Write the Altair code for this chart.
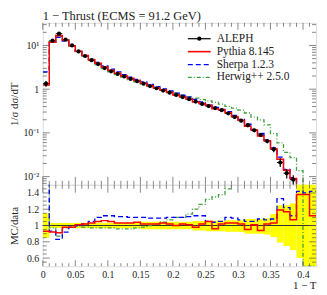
import altair as alt
import pandas as pd

# ---------------- data ----------------
edges = [0.00, 0.01, 0.02, 0.03, 0.04, 0.05, 0.06, 0.07, 0.08, 0.09, 0.10,
         0.11, 0.12, 0.13, 0.14, 0.15, 0.16, 0.17, 0.18, 0.19, 0.20,
         0.21, 0.22, 0.23, 0.24, 0.25, 0.26, 0.27, 0.28, 0.29, 0.30,
         0.31, 0.32, 0.33, 0.34, 0.35, 0.36, 0.37, 0.38, 0.39, 0.40,
         0.41, 0.42]

aleph = [1.34, 12.9, 18.6, 13.6, 10.0, 7.3, 5.75, 4.6, 3.75, 3.05,
         2.57, 2.24, 1.95, 1.72, 1.52, 1.34, 1.18, 1.05, 0.93, 0.83,
         0.74, 0.66, 0.59, 0.52, 0.46, 0.41, 0.37, 0.33, 0.28, 0.23,
         0.19, 0.15, 0.115, 0.09, 0.065, 0.042, 0.021, 0.012, 0.0085, 0.004,
         0.002, 0.001]

# data uncertainty band (lower / upper edge of the yellow band, relative)
band_down = [0.15, 0.03, 0.03, 0.03, 0.03, 0.035, 0.035, 0.035, 0.035, 0.035,
             0.035, 0.035, 0.035, 0.035, 0.035, 0.045, 0.045, 0.045, 0.045, 0.045,
             0.045, 0.045, 0.045, 0.06, 0.06, 0.07, 0.07, 0.07, 0.075, 0.075,
             0.08, 0.1, 0.1, 0.1, 0.11, 0.14, 0.21, 0.25, 0.3, 0.4,
             0.5, 0.5]
band_up = [0.15, 0.03, 0.03, 0.03, 0.03, 0.035, 0.035, 0.035, 0.035, 0.035,
           0.035, 0.035, 0.035, 0.035, 0.035, 0.045, 0.045, 0.045, 0.045, 0.045,
           0.045, 0.045, 0.045, 0.055, 0.055, 0.06, 0.06, 0.06, 0.065, 0.065,
           0.065, 0.08, 0.08, 0.08, 0.09, 0.14, 0.25, 0.25, 0.27, 0.6,
           0.6, 0.6]

pythia_ratio = [0.93, 0.92, 0.91, 0.98, 0.98, 1.01, 1.02, 1.03, 1.05, 1.06,
                1.05, 1.03, 1.03, 1.03, 1.04, 1.02, 1.02, 1.02, 1.03, 1.02,
                1.00, 1.02, 1.01, 0.98, 1.02, 1.05, 0.96, 1.02, 1.03, 1.03,
                1.02, 0.95, 1.01, 0.94, 1.02, 1.03, 1.19, 1.17, 1.07, 1.38,
                1.38, 1.12]

sherpa_ratio = [1.85, 0.93, 0.83, 0.92, 0.98, 1.00, 1.02, 1.05, 1.10, 1.12,
                1.12, 1.11, 1.11, 1.10, 1.10, 1.10, 1.09, 1.09, 1.09, 1.10,
                1.10, 1.10, 1.11, 1.12, 1.12, 1.05, 1.04, 1.05, 1.10, 1.09,
                1.07, 1.05, 1.05, 1.08, 1.07, 1.08, 1.33, 1.22, 1.12, 1.42,
                1.40, 1.42]

herwig_ratio = [1.80, 0.97, 0.87, 0.97, 0.98, 0.99, 0.98, 0.97, 0.97, 0.97,
                0.97, 0.96, 0.96, 0.96, 0.97, 0.98, 1.00, 1.02, 1.04, 1.07,
                1.10, 1.10, 1.14, 1.20, 1.26, 1.32, 1.35, 1.38, 1.45, 1.60,
                1.75, 1.90, 2.00, 2.20, 2.35, 2.30, 2.80, 3.00, 3.20, 3.40,
                0.50, 0.50]

series_names = ["ALEPH", "Pythia 8.145", "Sherpa 1.2.3", "Herwig++ 2.5.0"]

x_major = [0, 0.05, 0.1, 0.15, 0.2, 0.25, 0.3, 0.35, 0.4]
y_top_major = [0.01, 0.1, 1, 10]
y_ratio_major = [0.6, 0.8, 1.0, 1.2, 1.4]

# ---------------- styling ----------------
W, H_TOP, H_RAT = 275, 163, 82
FONT = "Liberation Serif"
TXT = "#222222"
TC = "#555555"
RED, BLUE, GREEN = "#ff0000", "#0000ff", "#40a040"
DASH_S = [5, 3]
DASH_H = [4, 2, 1, 2]

xs = alt.Scale(domain=[0, 0.42], nice=False, zero=False)
ys_top = alt.Scale(type="log", domain=[0.0065, 33], nice=False)
ys_rat = alt.Scale(domain=[0.5, 1.5], nice=False, zero=False)

AX_TOP_X = alt.Axis(labels=False, ticks=False, domain=False, grid=False, title="")
AX_TOP_Y = alt.Axis(values=y_top_major, ticks=False, domain=False, grid=False,
                    labelExpr="datum.value < 0.05 ? '10⁻²' : datum.value < 0.5 ? '10⁻¹' : datum.value < 5 ? '1' : '10¹'",
                    labelFont=FONT, labelFontSize=10, labelColor=TXT, labelPadding=4,
                    labelFlush=False,
                    title="1/σ dσ/dT", titleFont=FONT, titleFontSize=11,
                    titleFontWeight="normal", titleColor=TXT, titleX=-23)
AX_RAT_Y = alt.Axis(values=y_ratio_major, format="~g", ticks=False, domain=False,
                    grid=False, labelFont=FONT, labelFontSize=10, labelColor=TXT,
                    labelPadding=4, labelFlush=False,
                    title="MC/data", titleFont=FONT, titleFontSize=11,
                    titleFontWeight="normal", titleColor=TXT, titleX=-23)
AX_RAT_X = alt.Axis(values=x_major, format="~g", ticks=False, domain=False, grid=False,
                    labelFont=FONT, labelFontSize=10, labelColor=TXT, labelPadding=3,
                    labelFlush=False,
                    title="1 − T", titleFont=FONT, titleFontSize=11,
                    titleFontWeight="normal", titleColor=TXT, titleAnchor="end",
                    titlePadding=0)

n = len(aleph)
hist = pd.DataFrame({
    "lo": edges[:-1], "hi": edges[1:],
    "mid": [(edges[i] + edges[i + 1]) / 2 for i in range(n)],
    "v": aleph,
    "vlo": [aleph[i] * (1 - band_down[i]) for i in range(n)],
    "vhi": [aleph[i] * (1 + band_up[i]) for i in range(n)],
    "blo": [1 - r for r in band_down],
    "bhi": [1 + r for r in band_up],
})

pythia = [aleph[i] * pythia_ratio[i] for i in range(n)]
sherpa = [aleph[i] * sherpa_ratio[i] for i in range(n)]
herwig = [aleph[i] * herwig_ratio[i] for i in range(n)]


def step_df(vals):
    return pd.DataFrame({"x": edges, "v": list(vals) + [vals[-1]]})


def step_line(vals, yscale, xax, yax, color, dash=None, width=1.3):
    kw = dict(interpolate="step-after", clip=True, color=color, strokeWidth=width)
    if dash:
        kw["strokeDash"] = dash
    return alt.Chart(step_df(vals)).mark_line(**kw).encode(
        x=alt.X("x:Q", scale=xs, axis=xax),
        y=alt.Y("v:Q", scale=yscale, axis=yax),
    )


def xticks(vals, length, where, height, xax):
    df = pd.DataFrame({"t": vals})
    y0, y1 = (0, length) if where == "top" else (height, height - length)
    return alt.Chart(df).mark_rule(color=TC, strokeWidth=0.7).encode(
        x=alt.X("t:Q", scale=xs, axis=xax), y=alt.value(y0), y2=alt.value(y1))


def yticks(vals, scale, length, where, yax):
    df = pd.DataFrame({"t": vals})
    x0, x1 = (0, length) if where == "left" else (W, W - length)
    return alt.Chart(df).mark_rule(color=TC, strokeWidth=0.7).encode(
        y=alt.Y("t:Q", scale=scale, axis=yax), x=alt.value(x0), x2=alt.value(x1))


x_minor = [i / 100 for i in range(1, 42) if i % 5 != 0]
y_top_minor = [m * d for d in [0.001, 0.01, 0.1, 1, 10] for m in range(2, 10)
               if 0.0065 <= m * d <= 33]
y_rat_minor = [0.55, 0.65, 0.7, 0.75, 0.85, 0.9, 0.95, 1.05, 1.1, 1.15,
               1.25, 1.3, 1.35, 1.45]

# ---------------- top panel ----------------
data_hbar = alt.Chart(hist).mark_rule(color="black", strokeWidth=1, clip=True).encode(
    x=alt.X("lo:Q", scale=xs, axis=AX_TOP_X),
    x2="hi:Q",
    y=alt.Y("v:Q", scale=ys_top, axis=AX_TOP_Y),
)
data_vbar = alt.Chart(hist).mark_rule(color="black", strokeWidth=1.2, clip=True).encode(
    x=alt.X("mid:Q", scale=xs, axis=AX_TOP_X),
    y=alt.Y("vlo:Q", scale=ys_top, axis=AX_TOP_Y),
    y2="vhi:Q",
)
data_pts = alt.Chart(hist).mark_point(filled=True, color="black", size=18, opacity=1,
                                      clip=True).encode(
    x=alt.X("mid:Q", scale=xs, axis=AX_TOP_X),
    y=alt.Y("v:Q", scale=ys_top, axis=AX_TOP_Y),
)

one = pd.DataFrame({"a": [0]})
leg_x0, leg_x1, leg_tx = 146, 169, 175
leg_y = [16, 29, 42, 55]
legend_layers = [
    alt.Chart(one).mark_rule(color="black", strokeWidth=1.2).encode(
        x=alt.value(leg_x0), x2=alt.value(leg_x1), y=alt.value(leg_y[0])),
    alt.Chart(one).mark_point(filled=True, color="black", size=18, opacity=1).encode(
        x=alt.value((leg_x0 + leg_x1) / 2), y=alt.value(leg_y[0])),
    alt.Chart(one).mark_rule(color=RED, strokeWidth=1.6).encode(
        x=alt.value(leg_x0), x2=alt.value(leg_x1), y=alt.value(leg_y[1])),
    alt.Chart(one).mark_rule(color=BLUE, strokeWidth=1.3, strokeDash=DASH_S).encode(
        x=alt.value(leg_x0), x2=alt.value(leg_x1), y=alt.value(leg_y[2])),
    alt.Chart(one).mark_rule(color=GREEN, strokeWidth=1.3, strokeDash=DASH_H).encode(
        x=alt.value(leg_x0), x2=alt.value(leg_x1), y=alt.value(leg_y[3])),
]
for name, yy in zip(series_names, leg_y):
    legend_layers.append(
        alt.Chart(one).mark_text(align="left", baseline="middle", font=FONT,
                                 fontSize=11.5, color=TXT).encode(
            x=alt.value(leg_tx), y=alt.value(yy), text=alt.value(name)))

top = alt.layer(
    data_hbar,
    step_line(herwig, ys_top, AX_TOP_X, AX_TOP_Y, GREEN, DASH_H),
    step_line(sherpa, ys_top, AX_TOP_X, AX_TOP_Y, BLUE, DASH_S),
    step_line(pythia, ys_top, AX_TOP_X, AX_TOP_Y, RED, None, 1.5),
    data_vbar,
    data_pts,
    xticks(x_major, 7, "top", H_TOP, AX_TOP_X),
    xticks(x_minor, 4, "top", H_TOP, AX_TOP_X),
    xticks(x_major, 8, "bottom", H_TOP, AX_TOP_X),
    xticks(x_minor, 4, "bottom", H_TOP, AX_TOP_X),
    yticks(y_top_major, ys_top, 7, "left", AX_TOP_Y),
    yticks(y_top_minor, ys_top, 4, "left", AX_TOP_Y),
    yticks(y_top_major, ys_top, 7, "right", AX_TOP_Y),
    yticks(y_top_minor, ys_top, 4, "right", AX_TOP_Y),
    *legend_layers,
).properties(
    width=W, height=H_TOP,
    title=alt.TitleParams("1 − Thrust (ECMS = 91.2 GeV)", anchor="start", frame="group",
                          font=FONT, fontSize=12.5, fontWeight="normal", color=TXT,
                          offset=0),
)

# ---------------- ratio panel ----------------
band = alt.Chart(hist).mark_rect(color="#ffff00", clip=True).encode(
    x=alt.X("lo:Q", scale=xs, axis=AX_RAT_X),
    x2="hi:Q",
    y=alt.Y("blo:Q", scale=ys_rat, axis=AX_RAT_Y),
    y2="bhi:Q",
)
unity = alt.Chart(one).mark_rule(color="#333333", strokeWidth=1).encode(
    y=alt.Y(datum=1, scale=ys_rat, axis=AX_RAT_Y))

ratio = alt.layer(
    band,
    unity,
    step_line(herwig_ratio, ys_rat, AX_RAT_X, AX_RAT_Y, GREEN, DASH_H),
    step_line(sherpa_ratio, ys_rat, AX_RAT_X, AX_RAT_Y, BLUE, DASH_S),
    step_line(pythia_ratio, ys_rat, AX_RAT_X, AX_RAT_Y, RED, None, 1.5),
    xticks(x_major, 8, "top", H_RAT, AX_RAT_X),
    xticks(x_minor, 4, "top", H_RAT, AX_RAT_X),
    xticks(x_major, 6, "bottom", H_RAT, AX_RAT_X),
    xticks(x_minor, 3, "bottom", H_RAT, AX_RAT_X),
    yticks(y_ratio_major, ys_rat, 7, "left", AX_RAT_Y),
    yticks(y_rat_minor, ys_rat, 4, "left", AX_RAT_Y),
    yticks(y_ratio_major, ys_rat, 7, "right", AX_RAT_Y),
    yticks(y_rat_minor, ys_rat, 4, "right", AX_RAT_Y),
).properties(width=W, height=H_RAT)

chart = alt.vconcat(top, ratio, spacing=0, bounds="flush").properties(
    padding={"left": 0, "top": 0, "right": 2, "bottom": 0}
).configure_view(stroke="#444444", strokeWidth=1).configure(background="white")

chart.save("out.html", embed_options={"renderer": "svg", "actions": False})
